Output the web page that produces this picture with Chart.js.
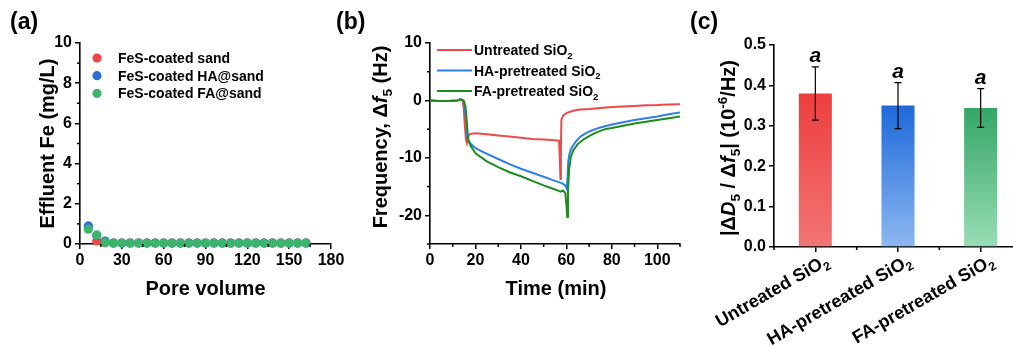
<!DOCTYPE html>
<html>
<head>
<meta charset="utf-8">
<script src="https://cdn.jsdelivr.net/npm/chart.js@4.4.1/dist/chart.umd.min.js"></script>
<style>
  html, body { margin: 0; padding: 0; background: #fff; overflow: hidden; }
  #wrap { position: relative; width: 1013px; height: 345px; overflow: hidden; }
  canvas { position: absolute; top: 0; }
</style>
</head>
<body>
<div id="wrap">
  <canvas id="chartA" width="360" height="345" style="left:0"></canvas>
  <canvas id="chartB" width="360" height="345" style="left:330px"></canvas>
  <canvas id="chartC" width="345" height="345" style="left:680px"></canvas>
</div>
<script>
// ---- (a) effluent Fe vs pore volume
const poreVolume = [6, 12, 18, 24, 30, 36, 42, 48, 54, 60, 66, 72, 78, 84, 90, 96, 102, 108, 114, 120, 126, 132, 138, 144, 150, 156, 162];
const feSand  = [0.85, 0.15, 0.06, 0.05, 0.05, 0.05, 0.05, 0.05, 0.05, 0.05, 0.05, 0.05, 0.05, 0.05, 0.05, 0.05, 0.05, 0.05, 0.05, 0.05, 0.05, 0.05, 0.05, 0.05, 0.05, 0.05, 0.05];
const feHA    = [0.90, 0.42, 0.15, 0.05, 0.05, 0.05, 0.05, 0.05, 0.05, 0.05, 0.05, 0.05, 0.05, 0.05, 0.05, 0.05, 0.05, 0.05, 0.05, 0.05, 0.05, 0.05, 0.05, 0.05, 0.05, 0.05, 0.05];
const feFA    = [0.74, 0.45, 0.08, 0.05, 0.05, 0.05, 0.05, 0.05, 0.05, 0.05, 0.05, 0.05, 0.05, 0.05, 0.05, 0.05, 0.05, 0.05, 0.05, 0.05, 0.05, 0.05, 0.05, 0.05, 0.05, 0.05, 0.05];

// ---- (b) QCM-D frequency shift
const timeUntreated = [0, 4, 8, 12, 13.5, 14.3, 14.8, 15.3, 15.8, 16.2, 16.6, 17.2, 18, 20, 25, 30, 35, 40, 45, 50, 55, 56.8, 57.1, 57.4, 57.6, 57.8, 58.5, 60, 63, 66, 70, 75, 80, 85, 90, 95, 100, 105, 110];
const freqUntreated = [0, -0.1, -0.1, 0, 0.2, 0, -1.2, -4.2, -6.8, -7.4, -6.5, -6.0, -5.8, -5.7, -5.9, -6.1, -6.3, -6.5, -6.7, -6.8, -6.95, -7.0, -10.2, -13.7, -9.0, -3.4, -2.7, -2.2, -1.8, -1.6, -1.5, -1.3, -1.15, -1.05, -0.95, -0.85, -0.8, -0.7, -0.65];
const timeHA = [0, 4, 8, 12, 13.5, 14.5, 15.3, 15.9, 16.4, 16.8, 18, 20, 25, 30, 35, 40, 45, 50, 55, 58, 59.5, 60.2, 60.5, 60.8, 61.3, 62, 63, 64.5, 66.5, 69, 72, 75, 80, 85, 90, 95, 100, 105, 110];
const freqHA = [0, -0.1, -0.1, 0, 0.2, 0, -1.0, -3.8, -6.3, -7.0, -7.6, -8.3, -9.3, -10.2, -11.1, -11.9, -12.6, -13.3, -14.0, -14.4, -14.8, -15.4, -13.5, -10.8, -9.4, -8.5, -7.8, -7.0, -6.2, -5.6, -5.1, -4.7, -4.2, -3.8, -3.4, -3.1, -2.8, -2.4, -2.1];
const timeFA = [0, 4, 8, 12, 13.5, 14.8, 15.6, 16.2, 16.7, 17.2, 18, 20, 25, 30, 35, 40, 45, 50, 55, 57.5, 58.5, 59.5, 60.1, 60.4, 60.7, 61.2, 62, 63, 65, 67.5, 70, 73, 77, 80, 85, 90, 95, 100, 105, 110];
const freqFA = [0, -0.1, -0.1, 0, 0.2, 0, -1.0, -3.8, -6.5, -7.3, -8.0, -9.2, -10.6, -11.6, -12.5, -13.2, -14.0, -14.8, -15.5, -15.9, -15.7, -16.1, -18.5, -20.3, -16.0, -12.0, -9.8, -8.7, -7.6, -6.8, -6.2, -5.6, -5.0, -4.8, -4.4, -4.0, -3.7, -3.4, -3.1, -2.8];

// ---- (c) dissipation / frequency ratio
const barLabels = ['Untreated SiO2', 'HA-pretreated SiO2', 'FA-pretreated SiO2'];
const ratioMean = [0.380, 0.350, 0.344];
const ratioErr  = [0.066, 0.057, 0.048];
const sigLetters = ['a', 'a', 'a'];

const FONT = 'Arial, "Liberation Sans", Helvetica, sans-serif';
Chart.defaults.font.family = FONT;
Chart.defaults.font.weight = 'bold';
Chart.defaults.color = '#000';

const RED = '#EE4A4E', BLUE = '#2F7FE6', GREEN = '#1E8B1E';
const DOT_RED = '#EE4444', DOT_BLUE = '#2E6FD6', DOT_GREEN = '#3BB46C';
const BAR_TOP = ['#EE3E3E', '#1E69DA', '#35A666'];
const BAR_BOTTOM = ['#F27575', '#8DB8F0', '#98DDB6'];

// rich text: parts = [[text, style]], style '' | 'i' | 'sub' | 'sup'
function partFont(p, size) {
  const s = (p[1] === 'sub' || p[1] === 'sup') ? size * 0.68 : size;
  return (p[1] === 'i' ? 'italic ' : '') + 'bold ' + s + 'px ' + FONT;
}
function drawRich(ctx, parts, x, y, size, align) {
  let w = 0;
  parts.forEach(p => { ctx.font = partFont(p, size); w += ctx.measureText(p[0]).width; });
  let cx = align === 'center' ? x - w / 2 : align === 'right' ? x - w : x;
  ctx.textAlign = 'left';
  ctx.textBaseline = 'alphabetic';
  parts.forEach(p => {
    ctx.font = partFont(p, size);
    const dy = p[1] === 'sub' ? size * 0.25 : p[1] === 'sup' ? -size * 0.4 : 0;
    ctx.fillText(p[0], cx, y + dy);
    cx += ctx.measureText(p[0]).width;
  });
}
function drawVertical(ctx, parts, cx, cy, size) {
  ctx.save();
  ctx.translate(cx, cy);
  ctx.rotate(-Math.PI / 2);
  drawRich(ctx, parts, 0, size * 0.36, size, 'center');
  ctx.restore();
}
function sio2(label) {
  return [[label.slice(0, -1), ''], [label.slice(-1), 'sub']];
}

function minorTicks(axes, len) {
  return {
    id: 'minorTicks',
    afterDraw(chart) {
      const ctx = chart.ctx;
      ctx.save();
      ctx.strokeStyle = '#000';
      ctx.lineWidth = 1.5;
      axes.forEach(id => {
        const s = chart.scales[id];
        const px = s.ticks.map((_, i) => s.getPixelForTick(i));
        if (px.length < 2) return;
        const step = px[1] - px[0];
        const mids = [px[0] - step / 2, px[px.length - 1] + step / 2];
        for (let i = 0; i < px.length - 1; i++) mids.push((px[i] + px[i + 1]) / 2);
        const horiz = s.isHorizontal();
        const lo = horiz ? s.left : s.top, hi = horiz ? s.right : s.bottom;
        mids.forEach(p => {
          if (p < lo - 0.5 || p > hi + 0.5) return;
          ctx.beginPath();
          if (horiz) { ctx.moveTo(p, s.top); ctx.lineTo(p, s.top + len); }
          else { ctx.moveTo(s.right, p); ctx.lineTo(s.right - len, p); }
          ctx.stroke();
        });
      });
      ctx.restore();
    }
  };
}

function axisX(extra) {
  return Object.assign({
    grid: { drawOnChartArea: false, drawTicks: true, tickLength: 5, color: '#000', lineWidth: 1.5 },
    border: { display: true, color: '#000', width: 1.6 },
  }, extra);
}

const common = {
  responsive: false,
  animation: false,
  devicePixelRatio: 1,
  events: [],
};

// ---------- (a)
const chartA = new Chart(document.getElementById('chartA'), {
  type: 'scatter',
  data: {
    datasets: [
      { label: 'FeS-coated sand', data: poreVolume.map((x, i) => ({ x, y: feSand[i] })), backgroundColor: DOT_RED, order: 2 },
      { label: 'FeS-coated HA@sand', data: poreVolume.map((x, i) => ({ x, y: feHA[i] })), backgroundColor: DOT_BLUE, order: 1 },
      { label: 'FeS-coated FA@sand', data: poreVolume.map((x, i) => ({ x, y: feFA[i] })), backgroundColor: DOT_GREEN, order: 0 }
    ]
  },
  options: Object.assign({}, common, {
    layout: { padding: { left: 0, top: 43, right: 29, bottom: 0 } },
    elements: { point: { radius: 4.6, hoverRadius: 4.6, borderWidth: 0 } },
    datasets: { scatter: { clip: false } },
    plugins: { legend: { display: false }, tooltip: { enabled: false } },
    scales: {
      x: axisX({ type: 'linear', min: 0, max: 180,
        ticks: { stepSize: 30, padding: 2, font: { size: 16, weight: 'bold' } },
        afterFit: s => { s.height = 101; } }),
      y: axisX({ type: 'linear', min: 0, max: 10,
        ticks: { stepSize: 2, padding: 3, font: { size: 16, weight: 'bold' } },
        afterFit: s => { s.width = 80; } })
    }
  }),
  plugins: [minorTicks(['x', 'y'], 3), {
    id: 'decorA',
    afterDraw(chart) {
      const ctx = chart.ctx;
      ctx.save();
      ctx.fillStyle = '#000';
      drawRich(ctx, [['(a)', '']], 10, 29, 23, 'left');
      drawVertical(ctx, [['Effluent Fe (mg/L)', '']], 47, 143.5, 20);
      drawRich(ctx, [['Pore volume', '']], 205.5, 295, 20, 'center');
      const rows = [58, 75.7, 93.4];
      chart.data.datasets.forEach((d, i) => {
        ctx.fillStyle = d.backgroundColor;
        ctx.beginPath();
        ctx.arc(97, rows[i], 4.6, 0, Math.PI * 2);
        ctx.fill();
        ctx.fillStyle = '#000';
        drawRich(ctx, [[d.label, '']], 118, rows[i] + 5, 14, 'left');
      });
      ctx.restore();
    }
  }]
});

// ---------- (b)
const OFFB = 330;
const chartB = new Chart(document.getElementById('chartB'), {
  type: 'scatter',
  data: {
    datasets: [
      { label: 'Untreated SiO2', data: timeUntreated.map((x, i) => ({ x, y: freqUntreated[i] })), borderColor: RED, order: 2 },
      { label: 'HA-pretreated SiO2', data: timeHA.map((x, i) => ({ x, y: freqHA[i] })), borderColor: BLUE, order: 1 },
      { label: 'FA-pretreated SiO2', data: timeFA.map((x, i) => ({ x, y: freqFA[i] })), borderColor: GREEN, order: 0 }
    ]
  },
  options: Object.assign({}, common, {
    layout: { padding: { left: 0, top: 43, right: 10, bottom: 0 } },
    datasets: { scatter: { showLine: true, pointRadius: 0, borderWidth: 2, tension: 0 } },
    plugins: { legend: { display: false }, tooltip: { enabled: false } },
    scales: {
      x: axisX({ type: 'linear', min: 0, max: 110,
        ticks: { stepSize: 20, includeBounds: false, padding: 2, font: { size: 16, weight: 'bold' } },
        afterFit: s => { s.height = 101; } }),
      y: axisX({ type: 'linear', min: -25, max: 10,
        ticks: { stepSize: 10, includeBounds: false, padding: 3, font: { size: 16, weight: 'bold' } },
        afterFit: s => { s.width = 100; } })
    }
  }),
  plugins: [minorTicks(['x', 'y'], 3), {
    id: 'decorB',
    afterDraw(chart) {
      const ctx = chart.ctx;
      ctx.save();
      ctx.fillStyle = '#000';
      drawRich(ctx, [['(b)', '']], 336 - OFFB, 29, 23, 'left');
      drawVertical(ctx, [['Frequency, Δ', ''], ['f', 'i'], ['5', 'sub'], [' (Hz)', '']], 380 - OFFB, 137, 20);
      drawRich(ctx, [['Time (min)', '']], 556 - OFFB, 295, 20, 'center');
      const rows = [50, 70.5, 91];
      chart.data.datasets.forEach((d, i) => {
        ctx.strokeStyle = d.borderColor;
        ctx.lineWidth = 2.2;
        ctx.beginPath();
        ctx.moveTo(437 - OFFB, rows[i]);
        ctx.lineTo(472 - OFFB, rows[i]);
        ctx.stroke();
        ctx.fillStyle = '#000';
        drawRich(ctx, sio2(d.label), 474 - OFFB, rows[i] + 5, 14, 'left');
      });
      ctx.restore();
    }
  }]
});

// ---------- (c)
const OFFC = 680;
function barFill(c) {
  const i = c.dataIndex;
  if (i === undefined) return BAR_TOP[0];
  const chart = c.chart;
  const area = chart.chartArea;
  if (!area || !chart.scales.y) return BAR_TOP[i];
  const top = chart.scales.y.getPixelForValue(ratioMean[i]);
  const g = chart.ctx.createLinearGradient(0, top, 0, area.bottom);
  g.addColorStop(0, BAR_TOP[i]);
  g.addColorStop(1, BAR_BOTTOM[i]);
  return g;
}
const chartC = new Chart(document.getElementById('chartC'), {
  type: 'bar',
  data: {
    labels: barLabels,
    datasets: [{ data: ratioMean, backgroundColor: barFill, borderWidth: 0, barPercentage: 0.4, categoryPercentage: 1 }]
  },
  options: Object.assign({}, common, {
    layout: { padding: { left: 0, top: 45, right: 3, bottom: 0 } },
    plugins: { legend: { display: false }, tooltip: { enabled: false } },
    scales: {
      x: axisX({ type: 'category', offset: true,
        grid: { offset: false, drawOnChartArea: false, drawTicks: true, tickLength: 5, color: '#000', lineWidth: 1.5 },
        ticks: { display: false },
        afterFit: s => { s.height = 98; } }),
      y: axisX({ type: 'linear', min: 0, max: 0.5,
        ticks: { stepSize: 0.1, padding: 3, font: { size: 16, weight: 'bold' }, callback: v => v.toFixed(1) },
        afterFit: s => { s.width = 94; } })
    }
  }),
  plugins: [minorTicks(['x'], 3), {
    id: 'decorC',
    afterDatasetsDraw(chart) {
      const ctx = chart.ctx;
      const y = chart.scales.y;
      const meta = chart.getDatasetMeta(0);
      ctx.save();
      ctx.strokeStyle = '#000';
      ctx.fillStyle = '#000';
      ctx.lineWidth = 1.2;
      meta.data.forEach((bar, i) => {
        const hi = y.getPixelForValue(ratioMean[i] + ratioErr[i]);
        const lo = y.getPixelForValue(ratioMean[i] - ratioErr[i]);
        ctx.beginPath();
        ctx.moveTo(bar.x, hi); ctx.lineTo(bar.x, lo);
        ctx.moveTo(bar.x - 3.5, hi); ctx.lineTo(bar.x + 3.5, hi);
        ctx.moveTo(bar.x - 3.5, lo); ctx.lineTo(bar.x + 3.5, lo);
        ctx.stroke();
        drawRich(ctx, [[sigLetters[i], 'i']], bar.x, hi - 5, 21, 'center');
      });
      ctx.restore();
    },
    afterDraw(chart) {
      const ctx = chart.ctx;
      const x = chart.scales.x;
      ctx.save();
      ctx.fillStyle = '#000';
      drawRich(ctx, [['(c)', '']], 690 - OFFC, 29, 23, 'left');
      drawVertical(ctx, [['|Δ', ''], ['D', 'i'], ['5', 'sub'], [' / Δ', ''], ['f', 'i'], ['5', 'sub'],
        ['| (10', ''], ['-6', 'sup'], ['/Hz)', '']], 728 - OFFC, 148, 20);
      barLabels.forEach((lab, i) => {
        const px = x.getPixelForTick(i);
        ctx.save();
        ctx.translate(px + 8, 253);
        ctx.rotate(-Math.PI / 6);
        drawRich(ctx, sio2(lab), 0, 12.9, 18, 'right');
        ctx.restore();
      });
      ctx.restore();
    }
  }]
});
</script>
</body>
</html>
